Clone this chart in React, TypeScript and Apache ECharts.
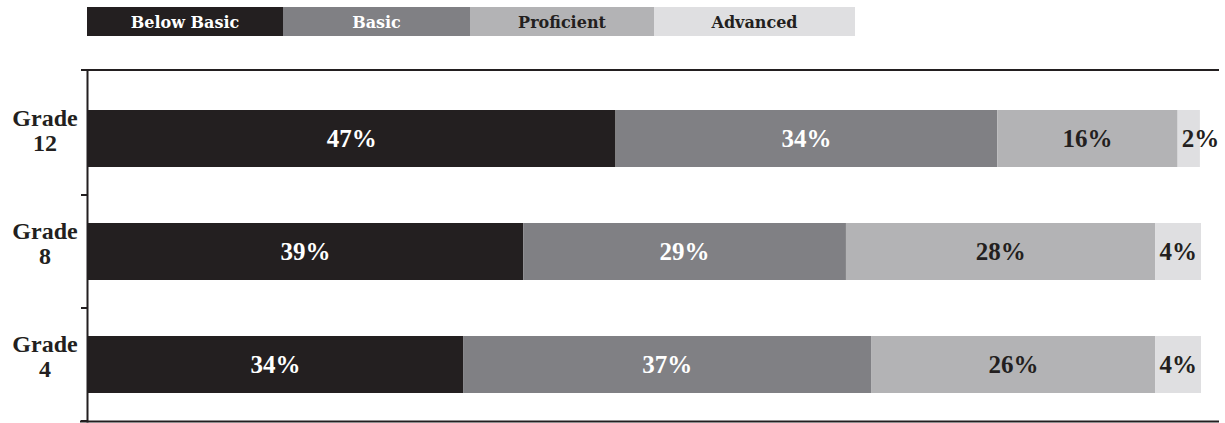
import React, { useEffect, useRef } from "react";
import * as echarts from "echarts";

const grades = ["Grade\n12", "Grade\n8", "Grade\n4"];
const levels = ["Below Basic", "Basic", "Proficient", "Advanced"];
const colors = ["#231f20", "#808084", "#b3b3b5", "#dfdfe1"];
const textColors = ["#ffffff", "#ffffff", "#231f20", "#231f20"];

// values per level, ordered by grades (12, 8, 4)
const belowBasic = [47.4, 39.1, 33.7];
const basic = [34.3, 29.0, 36.7];
const proficient = [16.2, 27.8, 25.5];
const advanced = [2.0, 4.2, 4.2];

const belowBasicLabels = [47, 39, 34];
const basicLabels = [34, 29, 37];
const proficientLabels = [16, 28, 26];
const advancedLabels = [2, 4, 4];

const seriesValues = [belowBasic, basic, proficient, advanced];
const seriesLabels = [belowBasicLabels, basicLabels, proficientLabels, advancedLabels];

const SERIF = "'Liberation Serif', 'DejaVu Serif', serif";
const LEGEND_FONT = "'DejaVu Serif', 'Liberation Serif', serif";
const INK = "#231f20";

export default function App() {
  const ref = useRef<HTMLDivElement>(null);
  useEffect(() => {
    if (!ref.current) return;
    const chart = echarts.init(ref.current, null, { renderer: "svg" });

    const series = levels.map((name, i) => ({
      type: "bar",
      name,
      stack: "total",
      barWidth: 57,
      itemStyle: { color: colors[i] },
      label: {
        show: true,
        position: "inside",
        color: textColors[i],
        fontFamily: SERIF,
        fontWeight: "bold",
        fontSize: 25,
        formatter: (p: any) => seriesLabels[i][p.dataIndex] + "%",
      },
      data: seriesValues[i].map((v) =>
        v < 3
          ? { value: v, label: { position: "insideLeft", distance: 4 } }
          : v
      ),
    }));

    // legend boxes
    const legendEdges = [87, 283, 470, 654, 855];
    const legendGraphics: any[] = [];
    levels.forEach((name, i) => {
      const x0 = legendEdges[i];
      const x1 = legendEdges[i + 1];
      legendGraphics.push({
        type: "rect",
        shape: { x: x0, y: 7, width: x1 - x0, height: 29 },
        style: { fill: colors[i] },
        silent: true,
      });
      legendGraphics.push({
        type: "text",
        x: (x0 + x1) / 2,
        y: 22,
        style: {
          text: name,
          fill: textColors[i],
          font: `bold 16px ${LEGEND_FONT}`,
          align: "center",
          verticalAlign: "middle",
        },
        silent: true,
      });
    });

    const frame: any[] = [
      {
        type: "line",
        shape: { x1: 81, y1: 70, x2: 1219, y2: 70 },
        style: { stroke: INK, lineWidth: 2 },
        silent: true,
      },
      {
        type: "line",
        shape: { x1: 80, y1: 421.5, x2: 1219, y2: 421.5 },
        style: { stroke: INK, lineWidth: 2 },
        silent: true,
      },
      {
        type: "line",
        shape: { x1: 87.5, y1: 69, x2: 87.5, y2: 422.5 },
        style: { stroke: INK, lineWidth: 2 },
        silent: true,
      },
    ];

    chart.setOption({
      animation: false,
      grid: {
        left: 88,
        right: 24,
        top: 82,
        bottom: 2,
        outerBoundsMode: "none",
      },
      xAxis: {
        type: "value",
        min: 0,
        max: 100,
        show: false,
      },
      yAxis: {
        type: "category",
        inverse: true,
        data: grades,
        axisLine: { show: false },
        axisTick: {
          show: true,
          length: 7,
          interval: (index: number) => index !== 0,
          lineStyle: { color: INK, width: 2 },
        },
        axisLabel: {
          align: "center",
          margin: 43,
          formatter: (v: string) =>
            v
              .split("\n")
              .map((s) => `{g|${s}}`)
              .join("\n") + "\n{s|}",
          rich: {
            g: {
              fontFamily: SERIF,
              fontWeight: "bold",
              fontSize: 24,
              lineHeight: 25,
              color: INK,
              align: "center",
            },
            s: { fontSize: 10, lineHeight: 16 },
          },
        },
      },
      graphic: [...frame, ...legendGraphics],
      series,
    });
    return () => chart.dispose();
  }, []);
  return (
    <div
      ref={ref}
      style={{ position: "fixed", left: 0, top: 0, width: 1225, height: 423, background: "#fff" }}
    />
  );
}
